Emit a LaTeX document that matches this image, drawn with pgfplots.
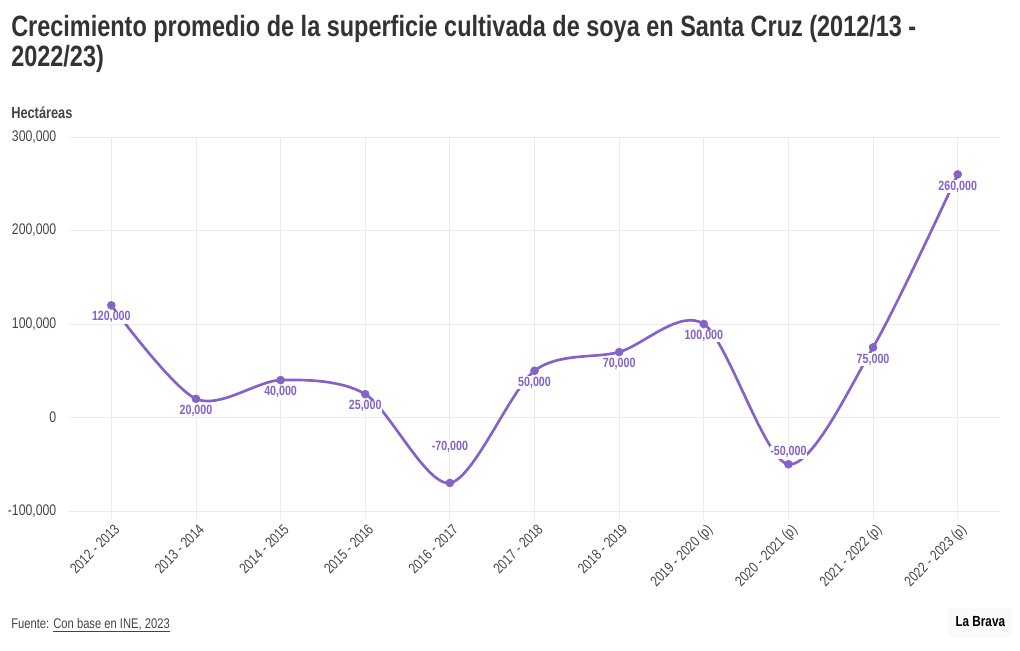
\documentclass[border=0pt]{standalone}
\usepackage{fontspec}
\setmainfont{Liberation Sans}[FakeStretch=0.8]
\usepackage{pgfplots}
\pgfplotsset{compat=1.18}
\definecolor{lineC}{HTML}{8462C8}
\definecolor{titleC}{HTML}{333333}
\definecolor{tickC}{HTML}{444444}
\definecolor{gridC}{HTML}{EBEBEB}
\pgfplotsset{
  label node/.style={
    nodes near coords={\pgfmathprintnumber[fixed, precision=0, 1000 sep={,}, assume math mode=true]{\pgfplotspointmeta}},
    every node near coord/.style={font=\fontsize{10pt}{11pt}\selectfont\bfseries, text=lineC, fill=white, inner sep=0.6pt, anchor=center, yshift=#1},
  },
}
\begin{document}
\begin{tikzpicture}
\path[use as bounding box] (0,0) rectangle (765pt,-487.5pt);
% title
\node[anchor=base west, inner sep=0, text=titleC, font=\fontsize{22pt}{26pt}\selectfont\bfseries] at (8.25pt,-27pt) {Crecimiento promedio de la superficie cultivada de soya en Santa Cruz (2012/13 -};
\node[anchor=base west, inner sep=0, text=titleC, font=\fontsize{22pt}{26pt}\selectfont\bfseries] at (8.25pt,-49.5pt) {2022/23)};
\node[anchor=base west, inner sep=0, text=tickC, font=\fontsize{12pt}{14pt}\selectfont\bfseries] at (8.25pt,-88.5pt) {Hectáreas};
% footer
\node[anchor=base west, inner sep=0, text=tickC, font=\fontsize{10.5pt}{12pt}\selectfont] at (8.25pt,-471pt) {Fuente: \underline{Con base en INE, 2023}};
\fill[black!2] (711pt,-456pt) rectangle (759pt,-478pt);
\node[anchor=base east, inner sep=0, text=black, font=\fontsize{11pt}{13pt}\selectfont\bfseries] at (754pt,-470pt) {La Brava};
\begin{axis}[
  at={(51.75pt,-383.25pt)}, anchor=south west,
  scale only axis, width=698.25pt, height=280.5pt,
  xmin=-0.5, xmax=10.5, ymin=-100000, ymax=300000,
  xtick={0,...,10},
  xticklabels={2012 - 2013, 2013 - 2014, 2014 - 2015, 2015 - 2016, 2016 - 2017, 2017 - 2018, 2018 - 2019, 2019 - 2020 (p), 2020 - 2021 (p), 2021 - 2022 (p), 2022 - 2023 (p)},
  ytick={-100000,0,100000,200000,300000},
  scaled y ticks=false,
  yticklabel style={/pgf/number format/fixed, /pgf/number format/precision=0, /pgf/number format/1000 sep={,}},
  /pgf/number format/assume math mode=true,
  xticklabel style={rotate=45, anchor=north east, font=\fontsize{11pt}{12pt}\selectfont, text=tickC, inner sep=1pt, yshift=-2pt},
  yticklabel style={font=\fontsize{11.5pt}{13pt}\selectfont, text=tickC},
  grid=major, grid style={gridC, line width=0.6pt},
  axis line style={draw=none},
  tick align=outside,
  xtick pos=bottom,
  xtick style={gridC, line width=0.6pt},
  ytick style={draw=none},
  major tick length=6pt,
  clip=false,
]
\addplot[lineC, line width=2pt, smooth, tension=0.5, mark=none] table {
x y
0 120000
1 20000
2 40000
3 25000
4 -70000
5 50000
6 70000
7 100000
8 -50000
9 75000
10 260000
};
\addplot[only marks, mark=none, point meta=y, label node=-9pt] table {
x y
0 120000
1 20000
2 40000
3 25000
5 50000
6 70000
7 100000
9 75000
10 260000
};
\addplot[only marks, mark=none, point meta=y, label node=9pt] table {
x y
8 -50000
};
\addplot[only marks, mark=none, point meta=y, label node=27pt] table {
x y
4 -70000
};
\addplot[only marks, mark=*, mark size=3pt, color=lineC] table {
x y
0 120000
1 20000
2 40000
3 25000
4 -70000
5 50000
6 70000
7 100000
8 -50000
9 75000
10 260000
};
\end{axis}
\end{tikzpicture}
\end{document}
